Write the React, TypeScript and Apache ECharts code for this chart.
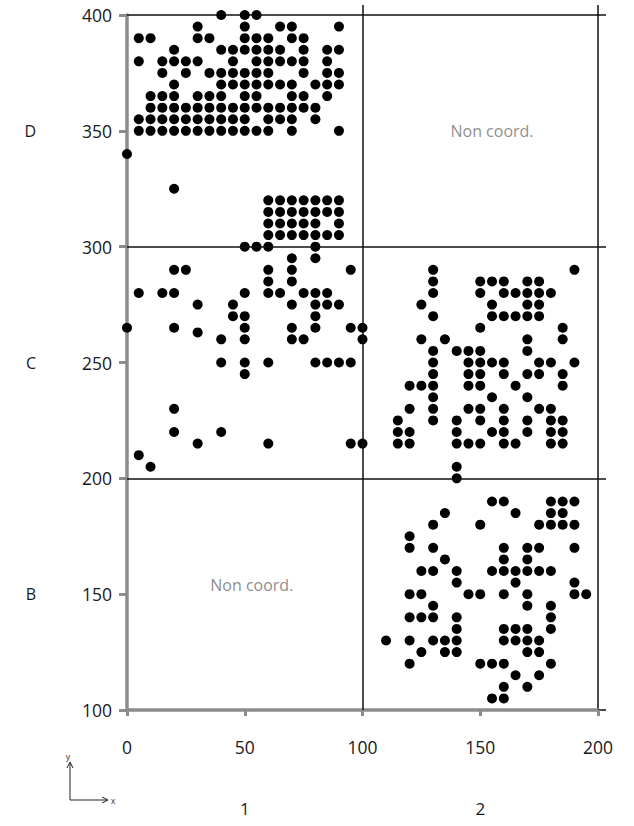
import React, { useEffect, useRef } from "react";
import * as echarts from "echarts";

// Each row: [y value, x values of the dots on that row]
const blockD1: [number, number[]][] = [
  [400, [40, 50, 55]],
  [395, [30, 50, 65, 70, 90]],
  [390, [5, 10, 30, 35, 50, 55, 60, 70, 75]],
  [385, [20, 40, 45, 50, 55, 60, 65, 75, 85, 90]],
  [380, [5, 15, 20, 25, 30, 45, 55, 60, 65, 70, 75, 85]],
  [375, [15, 25, 35, 40, 45, 50, 55, 60, 75, 85, 90]],
  [370, [20, 40, 45, 50, 55, 60, 65, 70, 80, 85, 90]],
  [365, [10, 15, 20, 30, 35, 40, 50, 55, 70, 75, 85]],
  [360, [10, 15, 20, 25, 30, 35, 40, 45, 50, 55, 60, 65, 70, 75, 80]],
  [355, [5, 10, 15, 20, 25, 30, 35, 40, 45, 50, 60, 65, 70, 80]],
  [350, [5, 10, 15, 20, 25, 30, 35, 40, 45, 50, 55, 60, 70, 90]],
  [340, [0]],
  [325, [20]],
  [320, [60, 65, 70, 75, 80, 85, 90]],
  [315, [60, 65, 70, 75, 80, 85, 90]],
  [310, [60, 65, 70, 75, 80, 90]],
  [305, [60, 65, 70, 75, 80, 85, 90]],
  [300, [50, 55, 60, 80]],
];

const blockC1: [number, number[]][] = [
  [295, [70, 80]],
  [290, [20, 25, 60, 70, 95]],
  [285, [60, 70]],
  [280, [5, 15, 20, 50, 60, 65, 75, 80, 85]],
  [275, [30, 45, 70, 80, 85, 90]],
  [270, [45, 50, 80]],
  [265, [0, 20, 50, 70, 80, 95, 100]],
  [263, [30]],
  [260, [40, 50, 70, 75, 100]],
  [250, [40, 50, 60, 80, 85, 90, 95]],
  [245, [50]],
  [230, [20]],
  [220, [20, 40]],
  [215, [30, 60, 95, 100]],
  [210, [5]],
  [205, [10]],
];

const blockC2: [number, number[]][] = [
  [290, [130, 190]],
  [285, [130, 150, 155, 160, 170, 175]],
  [280, [130, 150, 160, 165, 170, 175, 180]],
  [275, [125, 155, 170, 175]],
  [270, [130, 155, 160, 165, 170, 175]],
  [265, [150, 185]],
  [260, [125, 135, 170, 185]],
  [255, [130, 140, 145, 150, 170]],
  [250, [130, 145, 150, 155, 160, 175, 180, 190]],
  [245, [130, 145, 150, 160, 170, 175, 185]],
  [240, [120, 125, 130, 145, 150, 165, 185]],
  [235, [130, 155, 170]],
  [230, [120, 130, 145, 150, 160, 175, 180]],
  [225, [115, 130, 140, 150, 160, 170, 180, 185]],
  [220, [115, 120, 140, 155, 160, 170, 180, 185]],
  [215, [115, 120, 140, 145, 150, 160, 165, 180, 185]],
  [205, [140]],
  [200, [140]],
];

const blockB2: [number, number[]][] = [
  [190, [155, 160, 180, 185, 190]],
  [185, [135, 165, 180, 185]],
  [180, [130, 150, 175, 180, 185, 190]],
  [175, [120]],
  [170, [120, 130, 160, 170, 175, 190]],
  [165, [135, 160, 170]],
  [160, [125, 130, 140, 155, 160, 165, 170, 175, 180]],
  [155, [140, 165, 190]],
  [150, [120, 125, 145, 150, 160, 170, 190, 195]],
  [145, [130, 170, 180]],
  [140, [120, 125, 130, 140, 180]],
  [135, [140, 160, 165, 170, 180]],
  [130, [110, 120, 130, 135, 140, 160, 165, 170, 175]],
  [125, [125, 135, 140, 170, 175]],
  [120, [120, 150, 155, 160, 180]],
  [115, [165, 175]],
  [110, [160, 170]],
  [105, [155, 160]],
];

const rowGroupLabels: Record<number, string> = { 150: "B", 250: "C", 350: "D" };
const colGroupLabels: Record<number, string> = { 50: "1", 150: "2" };
const noteTexts = ["Non coord.", "Non coord."];
const notePositions: [number, number][] = [
  [155, 350],
  [53, 154],
];
const dividerX = [100];
const dividerY = [200, 300];

const FONT = "'Open Sans', 'Noto Sans', sans-serif";
const AXIS_GRAY = "#8c8c8c";
const INK = "#111111";

function flatten(rows: [number, number[]][]): number[][] {
  return rows.flatMap(([y, xs]) => xs.map((x) => [x, y]));
}

export default function App() {
  const ref = useRef<HTMLDivElement>(null);

  useEffect(() => {
    if (!ref.current) return;
    const chart = echarts.init(ref.current, undefined, { renderer: "svg" });
    const points = [
      ...flatten(blockD1),
      ...flatten(blockC1),
      ...flatten(blockC2),
      ...flatten(blockB2),
    ];

    chart.setOption({
      animation: false,
      backgroundColor: "#ffffff",
      grid: {
        left: 127,
        right: 36,
        top: 15,
        bottom: 116,
        containLabel: false,
        outerBoundsMode: "none",
      },
      xAxis: [
        {
          type: "value",
          position: "bottom",
          min: 0,
          max: 200,
          interval: 50,
          axisLine: { show: true, onZero: false, lineStyle: { color: AXIS_GRAY, width: 3.5 } },
          axisTick: { show: true, length: 6, lineStyle: { color: AXIS_GRAY, width: 3 } },
          axisLabel: { fontSize: 17.5, color: "#1a1a1a", margin: 28, fontFamily: FONT },
          splitLine: { show: false },
        },
        {
          type: "value",
          position: "top",
          min: 0,
          max: 200,
          interval: 100,
          axisLine: { show: true, onZero: false, lineStyle: { color: INK, width: 1.5 } },
          axisTick: {
            show: true,
            length: 10,
            customValues: [100, 200],
            lineStyle: { color: INK, width: 1.5 },
          },
          axisLabel: { show: false },
          splitLine: { show: false },
        },
        {
          type: "value",
          position: "bottom",
          min: 0,
          max: 200,
          interval: 50,
          axisLine: { show: false, onZero: false },
          axisTick: { show: false },
          axisLabel: {
            fontSize: 17,
            color: "#1a1a1a",
            margin: 90,
            fontFamily: FONT,
            formatter: (v: number) => colGroupLabels[v] || "",
          },
          splitLine: { show: false },
        },
      ],
      yAxis: [
        {
          type: "value",
          position: "left",
          min: 100,
          max: 400,
          interval: 50,
          axisLine: { show: true, onZero: false, lineStyle: { color: AXIS_GRAY, width: 3.5 } },
          axisTick: { show: true, length: 8, lineStyle: { color: AXIS_GRAY, width: 3 } },
          axisLabel: { fontSize: 17.5, color: "#1a1a1a", margin: 15, fontFamily: FONT },
          splitLine: { show: false },
        },
        {
          type: "value",
          position: "right",
          min: 100,
          max: 400,
          interval: 100,
          axisLine: { show: true, onZero: false, lineStyle: { color: INK, width: 1.5 } },
          axisTick: { show: true, length: 8, lineStyle: { color: INK, width: 1.5 } },
          axisLabel: { show: false },
          splitLine: { show: false },
        },
        {
          type: "value",
          position: "left",
          min: 100,
          max: 400,
          interval: 50,
          axisLine: { show: false, onZero: false },
          axisTick: { show: false },
          axisLabel: {
            fontSize: 16,
            color: "#1a1a1a",
            margin: 91,
            fontFamily: FONT,
            formatter: (v: number) => rowGroupLabels[v] || "",
          },
          splitLine: { show: false },
        },
      ],
      series: [
        {
          type: "scatter",
          xAxisIndex: 0,
          yAxisIndex: 0,
          data: [],
          z: 1,
          silent: true,
          markLine: {
            silent: true,
            symbol: "none",
            label: { show: false },
            lineStyle: { color: INK, width: 1.5, type: "solid", opacity: 1 },
            data: [
              ...dividerX.map((x) => ({ xAxis: x })),
              ...dividerY.map((y) => ({ yAxis: y })),
            ],
          },
        },
        {
          type: "scatter",
          xAxisIndex: 0,
          yAxisIndex: 0,
          z: 3,
          symbol: "circle",
          symbolSize: 10,
          itemStyle: { color: "#000000", opacity: 1 },
          data: points,
        },
        {
          type: "scatter",
          xAxisIndex: 0,
          yAxisIndex: 0,
          z: 4,
          symbolSize: 1,
          itemStyle: { color: "rgba(0,0,0,0)" },
          label: {
            show: true,
            position: "inside",
            fontSize: 16,
            color: "#6f6f6f",
            fontFamily: FONT,
            formatter: (p: any) => noteTexts[p.dataIndex],
          },
          data: notePositions,
        },
      ],
      graphic: [
        { type: "line", shape: { x1: 70, y1: 800, x2: 70, y2: 763 }, style: { stroke: "#222", lineWidth: 1 } },
        { type: "polyline", shape: { points: [[67, 768], [70, 762], [73, 768]] }, style: { stroke: "#222", lineWidth: 1, fill: "none" } },
        { type: "line", shape: { x1: 70, y1: 800, x2: 107, y2: 800 }, style: { stroke: "#222", lineWidth: 1 } },
        { type: "polyline", shape: { points: [[102, 797], [108, 800], [102, 803]] }, style: { stroke: "#222", lineWidth: 1, fill: "none" } },
        { type: "text", x: 68, y: 756, style: { text: "y", fontSize: 9, fill: "#333", fontFamily: FONT, align: "center", verticalAlign: "middle" } },
        { type: "text", x: 113, y: 800, style: { text: "x", fontSize: 9, fill: "#333", fontFamily: FONT, align: "center", verticalAlign: "middle" } },
      ],
    });

    return () => chart.dispose();
  }, []);

  return (
    <div
      ref={ref}
      style={{ position: "fixed", left: 0, top: 0, width: 634, height: 826, background: "#fff" }}
    />
  );
}
